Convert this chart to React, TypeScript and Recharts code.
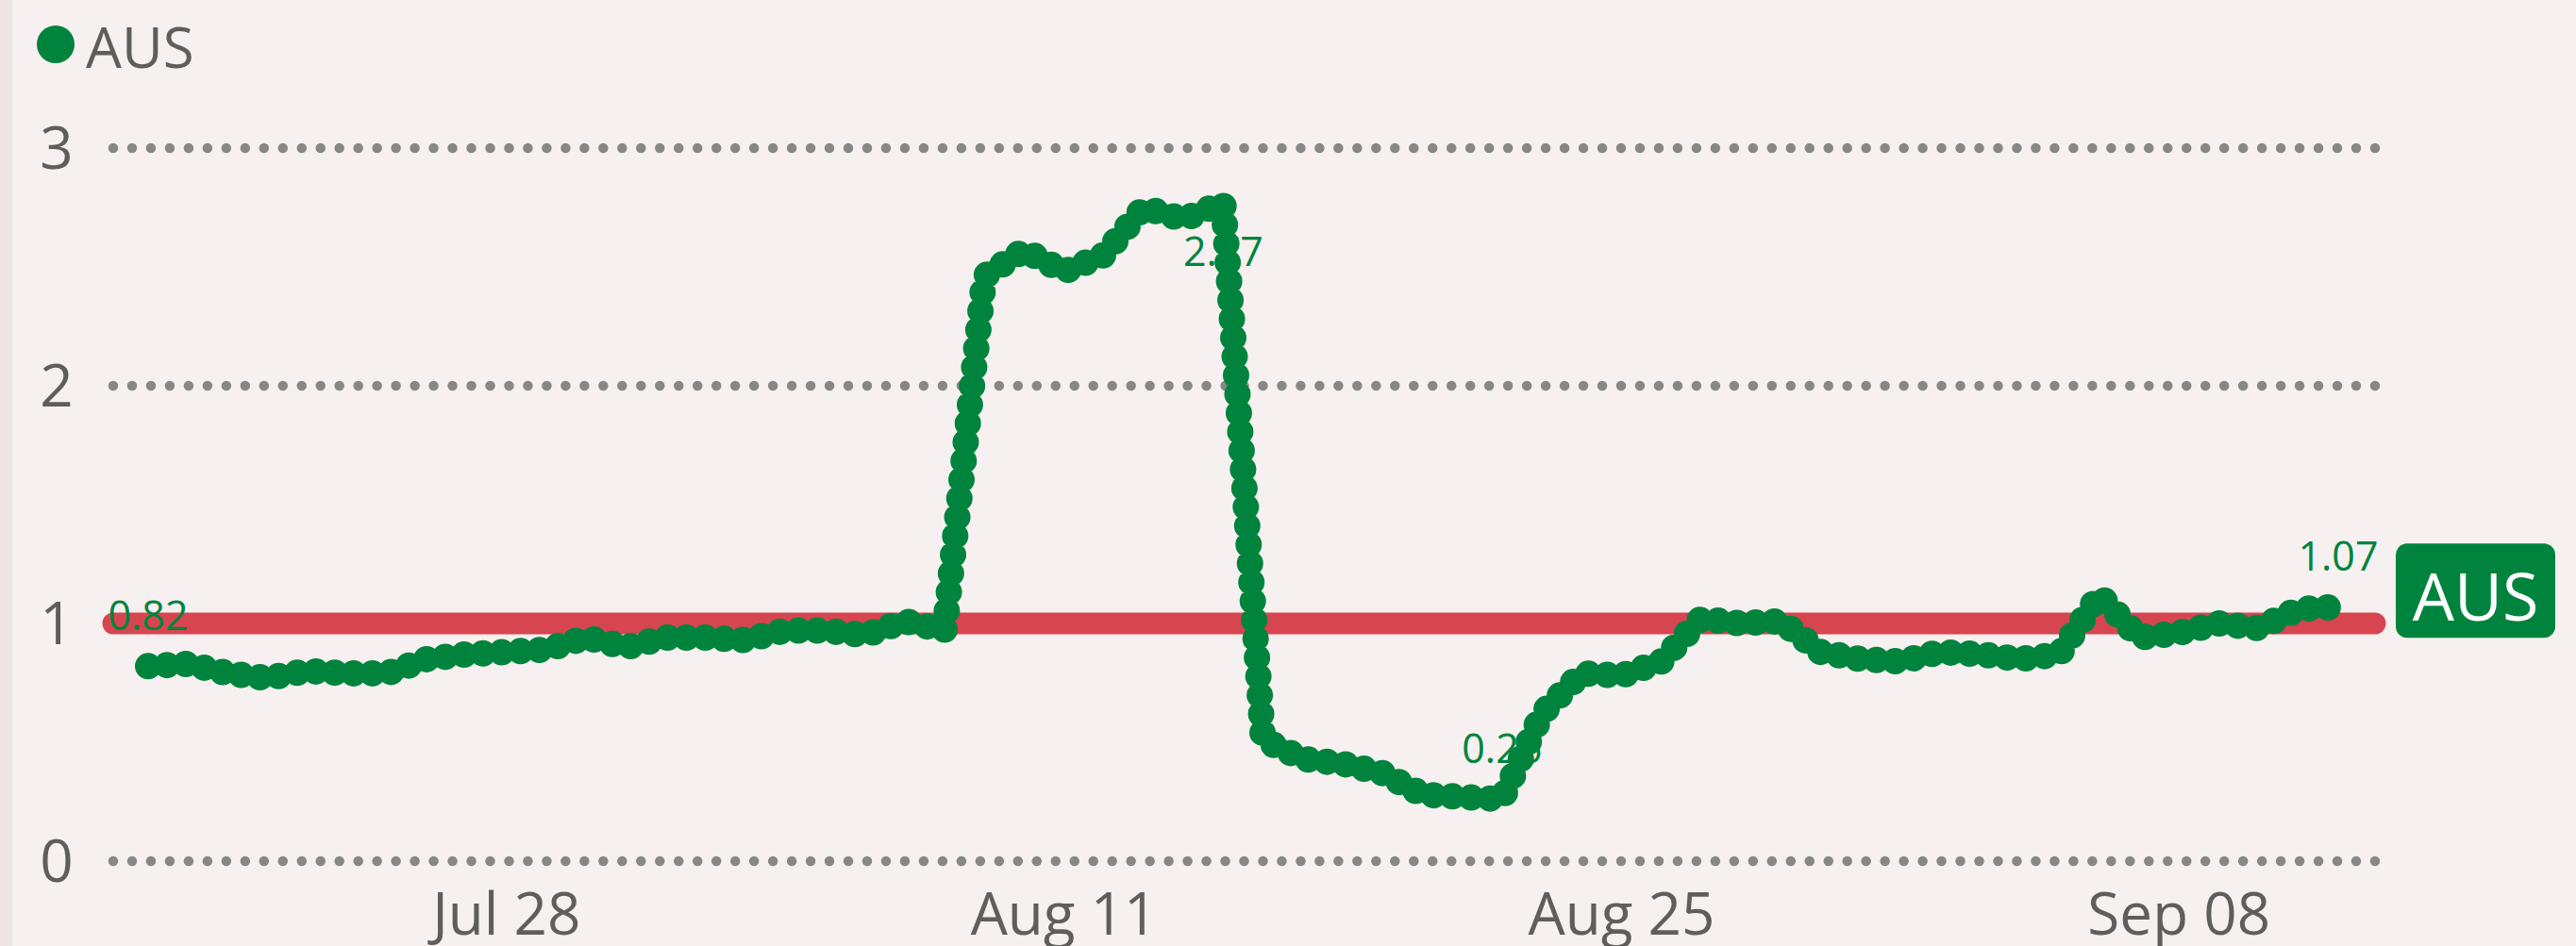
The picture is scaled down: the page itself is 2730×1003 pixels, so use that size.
import React from 'react';
import { LineChart, Line, XAxis, YAxis, CartesianGrid, ReferenceLine } from 'recharts';

const dates = [
  'Jul 19', 'Jul 20', 'Jul 21', 'Jul 22', 'Jul 23', 'Jul 24', 'Jul 25', 'Jul 26', 'Jul 27', 'Jul 28',
  'Jul 29', 'Jul 30', 'Jul 31', 'Aug 01', 'Aug 02', 'Aug 03', 'Aug 04', 'Aug 05', 'Aug 06', 'Aug 07',
  'Aug 08', 'Aug 09', 'Aug 10', 'Aug 11', 'Aug 12', 'Aug 13', 'Aug 14', 'Aug 15', 'Aug 16', 'Aug 17',
  'Aug 18', 'Aug 19', 'Aug 20', 'Aug 21', 'Aug 22', 'Aug 23', 'Aug 24', 'Aug 25', 'Aug 26', 'Aug 27',
  'Aug 28', 'Aug 29', 'Aug 30', 'Aug 31', 'Sep 01', 'Sep 02', 'Sep 03', 'Sep 04', 'Sep 05', 'Sep 06',
  'Sep 07', 'Sep 08', 'Sep 09', 'Sep 10', 'Sep 11', 'Sep 12',
];

const ausValues = [
  0.82, 0.83, 0.79, 0.77, 0.80, 0.79, 0.79, 0.85, 0.87, 0.88,
  0.89, 0.94, 0.90, 0.94, 0.94, 0.93, 0.97, 0.97, 0.95, 1.01,
  0.97, 2.46, 2.57, 2.48, 2.55, 2.75, 2.70, 2.77, 0.51, 0.43,
  0.41, 0.37, 0.28, 0.27, 0.26, 0.62, 0.79, 0.78, 0.84, 1.02,
  1.00, 1.01, 0.88, 0.85, 0.84, 0.88, 0.87, 0.85, 0.87, 1.12,
  0.94, 0.96, 1.00, 0.98, 1.06, 1.07,
];

const xTickDays = [9, 23, 37, 51];
const xTickLabels = ['Jul 28', 'Aug 11', 'Aug 25', 'Sep 08'];
const yTicks = [0, 1, 2, 3];
const seriesName = 'AUS';
const targetValue = 1;

const data = ausValues.map((v, i) => ({ d: i, date: dates[i], v }));

const FONT = "'Segoe UI', 'Open Sans', sans-serif";
const GREEN = '#00843D';
const RED = '#D64550';
const TEXT = '#605E5C';
const GRID = '#878787';
const BG = '#F6F0F0';
const STRIP = '#EFE4E6';

const XTick = (props: any) => {
  const { x, y, payload } = props;
  const idx = xTickDays.indexOf(payload.value);
  return (
    <text x={x} y={y} dy={78} textAnchor="middle" fill={TEXT} fontSize={62} fontFamily={FONT}>
      {idx >= 0 ? xTickLabels[idx] : ''}
    </text>
  );
};

const YTick = (props: any) => {
  const { x, y, payload } = props;
  return (
    <text x={x - 60} y={y} dy={22} textAnchor="middle" fill={TEXT} fontSize={62} fontFamily={FONT}>
      {payload.value}
    </text>
  );
};

export default function App() {
  const vals = ausValues;
  const maxI = vals.indexOf(Math.max(...vals));
  const minI = vals.indexOf(Math.min(...vals));
  const lastI = vals.length - 1;

  const renderDot = (p: any) => {
    const { cx, cy, index } = p;
    const key = `lbl-${index}`;
    if (cx == null || cy == null) return <g key={key} />;
    const show = index === 0 || index === lastI || index === maxI || index === minI;
    if (!show) return <g key={key} />;
    const below = index === maxI;
    return (
      <g key={key}>
        <text
          x={cx}
          y={below ? cy + 67 : cy - 38}
          textAnchor="middle"
          fill={GREEN}
          fontSize={43}
          fontFamily={FONT}
        >
          {vals[index].toFixed(2)}
        </text>
        {index === lastI && (
          <g>
            <rect x={cx + 61} y={cy - 67} width={169} height={100} rx={12} ry={12} fill={GREEN} />
            <text
              x={cx + 61 + 84.5}
              y={cy + 15}
              textAnchor="middle"
              fill="#FFFFFF"
              fontSize={70}
              fontFamily={FONT}
            >
              {seriesName}
            </text>
          </g>
        )}
      </g>
    );
  };

  return (
    <div
      style={{
        position: 'absolute',
        left: 0,
        top: 0,
        width: 2730,
        height: 1003,
        background: BG,
        overflow: 'hidden',
        fontFamily: FONT,
      }}
    >
      <div style={{ position: 'absolute', left: 0, top: 0, width: 13, height: 1003, background: STRIP }} />
      <svg style={{ position: 'absolute', left: 0, top: 0 }} width={400} height={120}>
        <circle cx={59} cy={47} r={20} fill={GREEN} />
        <text x={91} y={72} fontSize={60} fill={TEXT} fontFamily={FONT}>
          {seriesName}
        </text>
      </svg>
      <div style={{ position: 'absolute', left: 0, top: 0 }}>
        <LineChart
          width={2730}
          height={1003}
          data={data}
          margin={{ top: 157, right: 213, bottom: 0, left: 0 }}
        >
          <CartesianGrid
            vertical={false}
            stroke={GRID}
            strokeWidth={10.5}
            strokeDasharray="0 19.975"
            strokeLinecap="round"
          />
          <XAxis
            dataKey="d"
            type="number"
            domain={[-0.877, 55.924]}
            ticks={xTickDays}
            interval={0}
            height={90}
            axisLine={false}
            tickLine={false}
            tickSize={0}
            tickMargin={0}
            tick={<XTick />}
          />
          <YAxis
            type="number"
            domain={[0, 3]}
            ticks={yTicks}
            interval={0}
            width={120}
            axisLine={false}
            tickLine={false}
            tickSize={0}
            tickMargin={0}
            tick={<YTick />}
          />
          <ReferenceLine
            y={targetValue}
            stroke={RED}
            strokeWidth={23}
            strokeLinecap="round"
          />
          <Line
            dataKey="v"
            name={seriesName}
            type="linear"
            stroke={GREEN}
            strokeWidth={28}
            strokeDasharray="0 20"
            strokeLinecap="round"
            dot={renderDot}
            activeDot={false}
            isAnimationActive={false}
          />
        </LineChart>
      </div>
    </div>
  );
}
